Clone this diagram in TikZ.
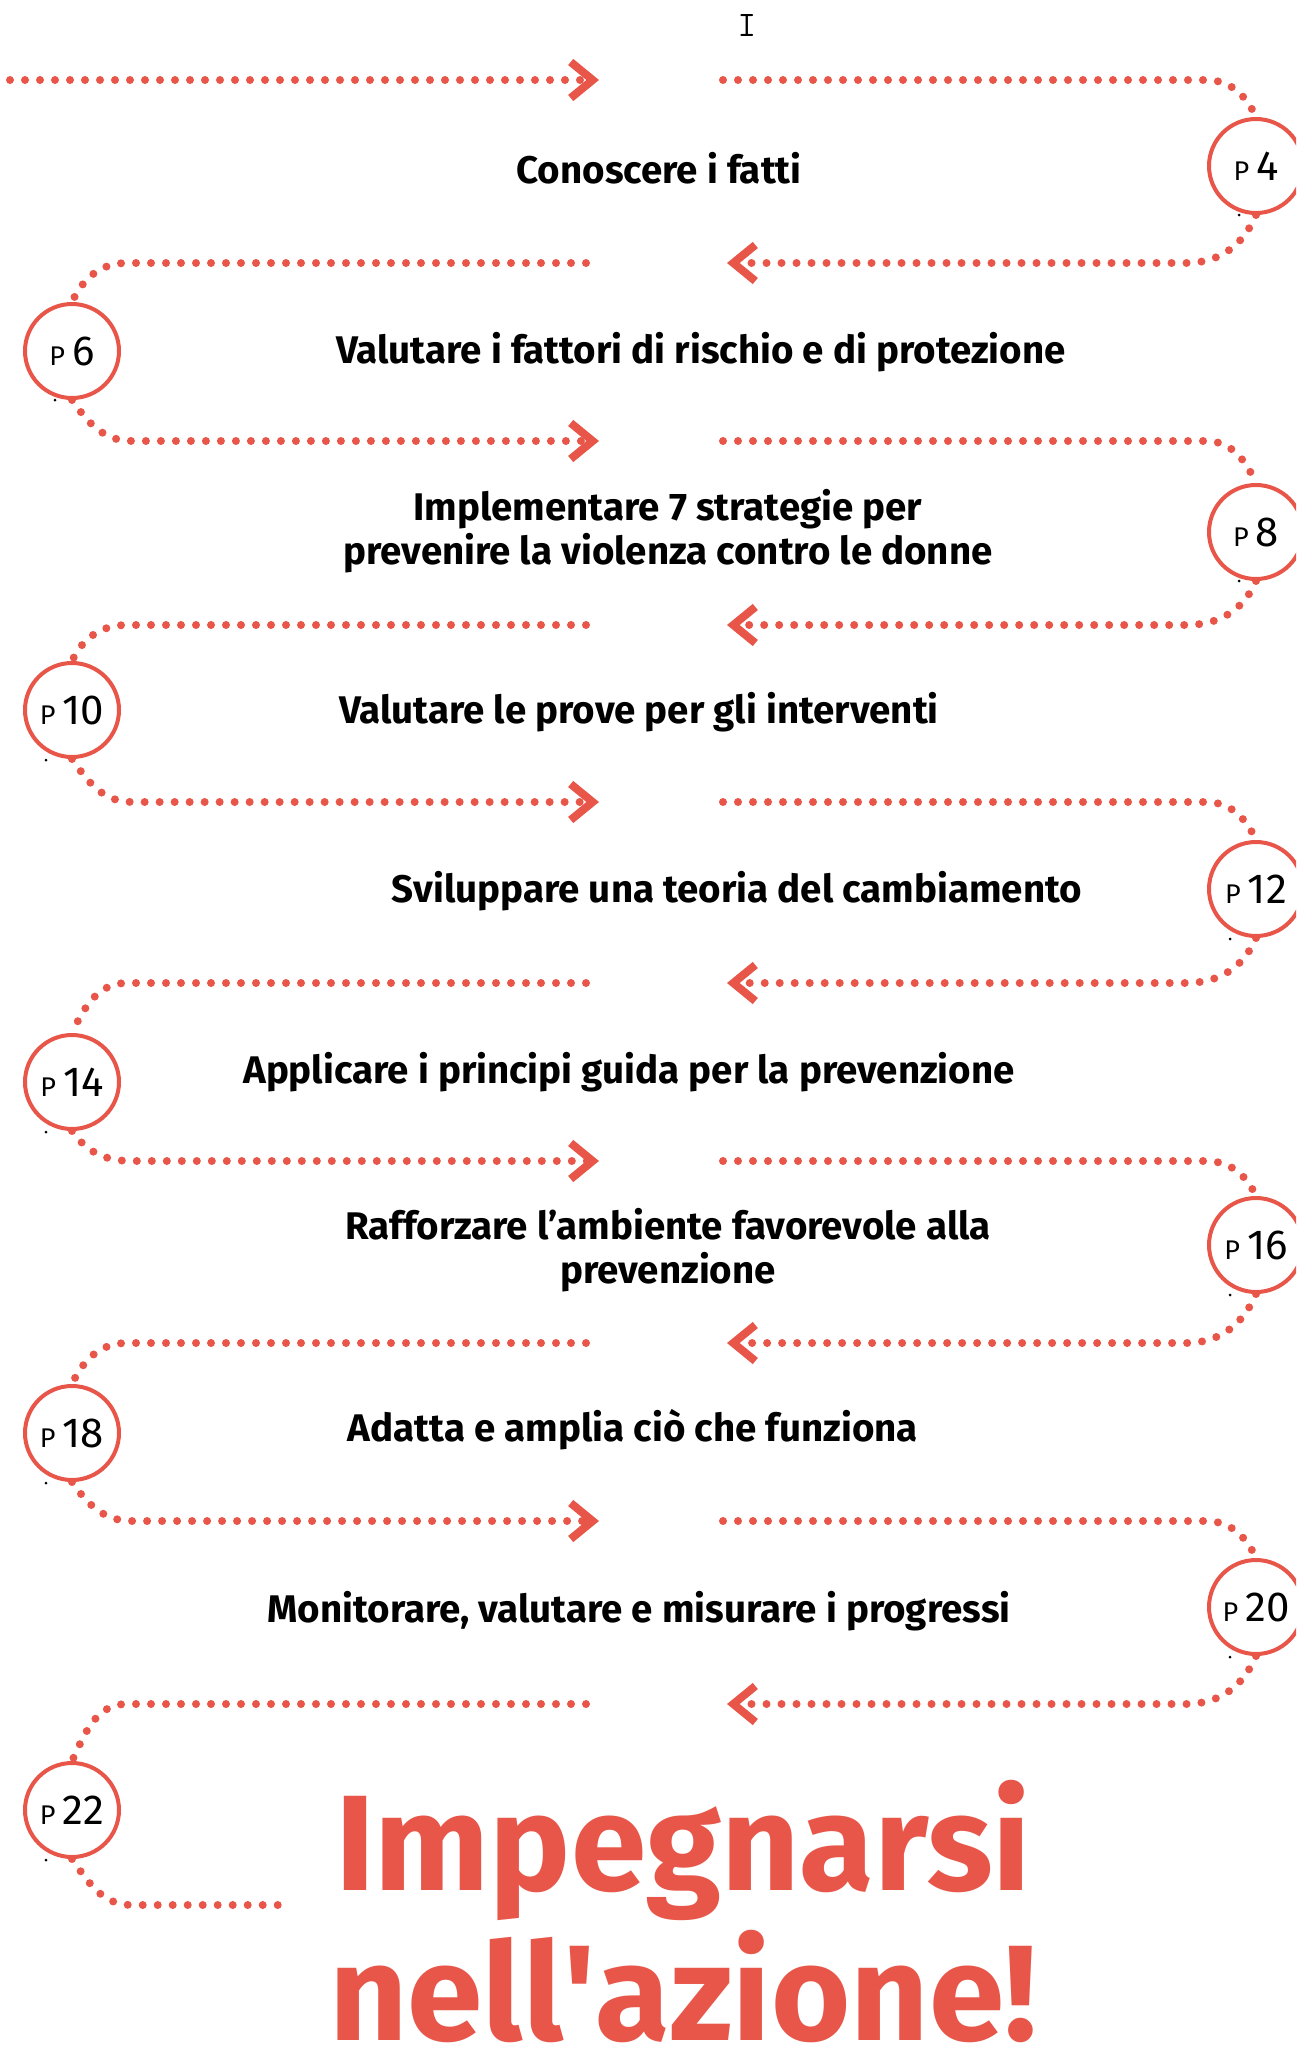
\documentclass[tikz,border=0pt]{standalone}
\usepackage{fontspec}
\setmainfont{Fira Sans}
\usetikzlibrary{arrows.meta}

\definecolor{coral}{HTML}{E8564A}
\tikzset{
  trail/.style={coral, line width=8pt, line cap=round, dash pattern=on 0pt off 15pt},
  chevron/.style={-{Straight Barb[length=22pt, width=36pt, line width=8pt]}},
  page/.style={circle, draw=coral, line width=4pt, fill=white, minimum size=94pt, inner sep=0pt},
  stage/.style={font=\bfseries\fontsize{38.5}{44}\selectfont, align=center, anchor=base},
  speck/.style={circle, fill=black, inner sep=0pt, minimum size=3pt}
}
\newcommand{\pagenum}[1]{{\fontsize{27}{27}\selectfont P}\hspace{7pt}{\fontsize{42}{42}\selectfont #1}}

\begin{document}
\begin{tikzpicture}[x=1pt, y=-1pt]
  \useasboundingbox (0,0) rectangle (1296,2050);
  \clip (0,0) rectangle (1296,2050);

  % cursor mark
  \node[font=\ttfamily\fontsize{36}{36}\selectfont] (cursor) at (747,26) {I};

  % page markers
  \node[page] (P4) at (1256,166) {\pagenum{4}};
  \node[page] (P6) at (72,351) {\pagenum{6}};
  \node[page] (P8) at (1256,532) {\pagenum{8}};
  \node[page] (P10) at (72,710) {\pagenum{10}};
  \node[page] (P12) at (1256,889) {\pagenum{12}};
  \node[page] (P14) at (72,1082) {\pagenum{14}};
  \node[page] (P16) at (1256,1245) {\pagenum{16}};
  \node[page] (P18) at (72,1433) {\pagenum{18}};
  \node[page] (P20) at (1256,1607) {\pagenum{20}};
  \node[page] (P22) at (72,1810) {\pagenum{22}};

  \node[speck] at ([shift={(-17pt,-49pt)}]P4.center) {};
  \node[speck] at ([shift={(-17pt,-49pt)}]P6.center) {};
  \node[speck] at ([shift={(-17pt,-49pt)}]P8.center) {};
  \node[speck] at ([shift={(-26pt,-50pt)}]P10.center) {};
  \node[speck] at ([shift={(-26pt,-50pt)}]P12.center) {};
  \node[speck] at ([shift={(-26pt,-50pt)}]P14.center) {};
  \node[speck] at ([shift={(-26pt,-50pt)}]P16.center) {};
  \node[speck] at ([shift={(-26pt,-50pt)}]P18.center) {};
  \node[speck] at ([shift={(-26pt,-50pt)}]P20.center) {};
  \node[speck] at ([shift={(-26pt,-50pt)}]P22.center) {};

  % steps
  \node[stage] (fatti) at (659,183) {Conoscere i fatti};
  \node[stage] (fattori) at (701,363) {Valutare i fattori di rischio e di protezione};
  \node[stage] (strategie) at (668,564) {Implementare 7 strategie per\\prevenire la violenza contro le donne};
  \node[stage] (prove) at (639,723) {Valutare le prove per gli interventi};
  \node[stage] (teoria) at (737,902) {Sviluppare una teoria del cambiamento};
  \node[stage] (principi) at (629,1083) {Applicare i principi guida per la prevenzione};
  \node[stage] (ambiente) at (668,1283) {Rafforzare l’ambiente favorevole alla\\prevenzione};
  \node[stage] (adatta) at (633,1441) {Adatta e amplia ciò che funziona};
  \node[stage] (monitora) at (639,1622) {Monitorare, valutare e misurare i progressi};
  \node[font=\bfseries\fontsize{136}{150}\selectfont, text=coral, align=center, anchor=base, inner sep=0pt] (azione)
    at (683,2040) {Impegnarsi\\nell\textquotesingle azione!};

  % dotted trail
  \coordinate (a1) at (10,80);
  \coordinate (h1) at (599,80);
  \coordinate (b1) at (723,80);
  \draw[trail, chevron] (a1) -- (h1);
  \draw[trail] (b1) -- ([xshift=-50pt]P4.center |- b1) to[out=0, in=115] (P4.north);

  \coordinate (h2) at (727,263);
  \coordinate (a2) at (586,263);
  \draw[trail, chevron] (P4.south) to[out=-113, in=0] ([xshift=-70pt]P4.center |- h2) -- (h2);
  \draw[trail] (a2) -- ([xshift=55pt]P6.center |- a2) to[out=180, in=65] (P6.north);

  \coordinate (h3) at (599,441);
  \coordinate (b3) at (723,441);
  \draw[trail, chevron] (P6.south) to[out=-55, in=180] ([xshift=60pt]P6.center |- h3) -- (h3);
  \draw[trail] (b3) -- ([xshift=-50pt]P8.center |- b3) to[out=0, in=115] (P8.north);

  \coordinate (h4) at (727,625);
  \coordinate (a4) at (586,625);
  \draw[trail, chevron] (P8.south) to[out=-113, in=0] ([xshift=-70pt]P8.center |- h4) -- (h4);
  \draw[trail] (a4) -- ([xshift=55pt]P10.center |- a4) to[out=180, in=65] (P10.north);

  \coordinate (h5) at (599,802);
  \coordinate (b5) at (723,802);
  \draw[trail, chevron] (P10.south) to[out=-55, in=180] ([xshift=60pt]P10.center |- h5) -- (h5);
  \draw[trail] (b5) -- ([xshift=-50pt]P12.center |- b5) to[out=0, in=115] (P12.north);

  \coordinate (h6) at (727,983);
  \coordinate (a6) at (586,983);
  \draw[trail, chevron] (P12.south) to[out=-113, in=0] ([xshift=-70pt]P12.center |- h6) -- (h6);
  \draw[trail] (a6) -- ([xshift=55pt]P14.center |- a6) to[out=180, in=65] (P14.north);

  \coordinate (h7) at (599,1161);
  \coordinate (b7) at (723,1161);
  \draw[trail, chevron] (P14.south) to[out=-55, in=180] ([xshift=60pt]P14.center |- h7) -- (h7);
  \draw[trail] (b7) -- ([xshift=-50pt]P16.center |- b7) to[out=0, in=115] (P16.north);

  \coordinate (h8) at (727,1343);
  \coordinate (a8) at (586,1343);
  \draw[trail, chevron] (P16.south) to[out=-113, in=0] ([xshift=-70pt]P16.center |- h8) -- (h8);
  \draw[trail] (a8) -- ([xshift=55pt]P18.center |- a8) to[out=180, in=65] (P18.north);

  \coordinate (h9) at (599,1521);
  \coordinate (b9) at (723,1521);
  \draw[trail, chevron] (P18.south) to[out=-55, in=180] ([xshift=60pt]P18.center |- h9) -- (h9);
  \draw[trail] (b9) -- ([xshift=-50pt]P20.center |- b9) to[out=0, in=115] (P20.north);

  \coordinate (h10) at (727,1704);
  \coordinate (a10) at (586,1704);
  \draw[trail, chevron] (P20.south) to[out=-113, in=0] ([xshift=-70pt]P20.center |- h10) -- (h10);
  \draw[trail] (a10) -- ([xshift=55pt]P22.center |- a10) to[out=180, in=65] (P22.north);

  \coordinate (e11) at (285,1905);
  \draw[trail] (P22.south) to[out=-55, in=180] ([xshift=60pt]P22.center |- e11) -- (e11);
\end{tikzpicture}
\end{document}
